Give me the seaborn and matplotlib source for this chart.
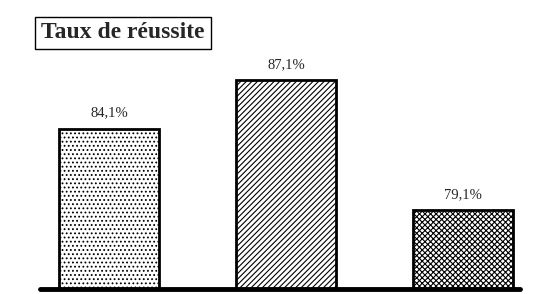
import matplotlib
matplotlib.use("Agg")
import matplotlib.pyplot as plt
import seaborn as sns
import pandas as pd

categories = ["A", "B", "C"]
values = [84.1, 87.1, 79.1]
labels = ["84,1%", "87,1%", "79,1%"]
hatches = ["....", "//////", "xxxxxx"]

sns.set_style("white")
plt.rcParams['font.family'] = ['Liberation Serif', 'DejaVu Serif']
plt.rcParams['hatch.linewidth'] = 0.8

df = pd.DataFrame({"cat": categories, "val": values})

fig = plt.figure(figsize=(5.57, 2.94), dpi=100)
ax = fig.add_axes([0, 5 / 294, 1, 289 / 294])
sns.barplot(data=df, x="cat", y="val", color="white", width=0.565,
            edgecolor="black", linewidth=2, ax=ax)

for bar, h in zip(ax.patches, hatches):
    bar.set_hatch(h)

# value labels above bars
for i, (v, lab) in enumerate(zip(values, labels)):
    ax.text(i, v + 0.55, lab, ha="center", va="bottom", fontsize=10.5)

ax.set_ylim(74.24, 92.0)
ax.set_xlim(-109 / 177, (557 - 109) / 177)
ax.axhline(74.24, xmin=40 / 557, xmax=520 / 557, color="black", lw=3.5, clip_on=False)
for s in ax.spines.values():
    s.set_visible(False)
ax.set_xticks([])
ax.set_yticks([])
ax.set_xlabel("")
ax.set_ylabel("")

fig.text(123 / 557, 1 - 33 / 294, "Taux de réussite", ha="center", va="center",
         fontsize=17, fontweight="bold",
         bbox=dict(boxstyle="square,pad=0.25", facecolor="white", edgecolor="black", lw=1))

fig.savefig("out.png", dpi=100)
